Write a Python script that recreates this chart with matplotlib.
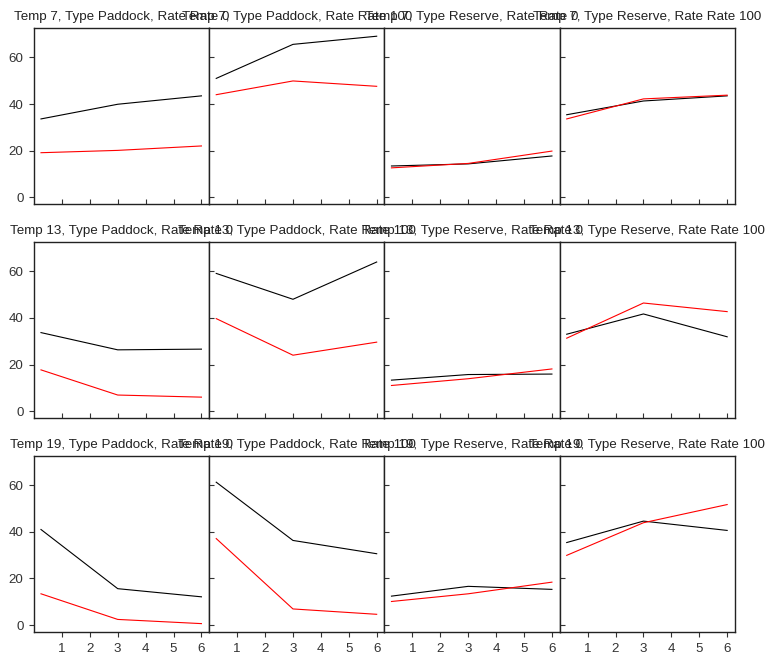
import matplotlib.pyplot as plt

plt.rcParams['font.family'] = ['Liberation Sans', 'DejaVu Sans']

times = [0.25, 3, 6]
temps = [7, 13, 19]
panels = [("Paddock", 0), ("Paddock", 100), ("Reserve", 0), ("Reserve", 100)]

# black series, one row per temp, one list per panel
black = [
    [[33.6, 39.9, 43.5], [51.0, 65.6, 69.1], [13.4, 14.3, 17.7], [35.4, 41.3, 43.5]],
    [[33.7, 26.3, 26.6], [59.1, 48.0, 64.0], [13.3, 15.7, 15.9], [33.0, 41.7, 31.9]],
    [[41.0, 15.6, 12.1], [61.3, 36.3, 30.6], [12.4, 16.6, 15.3], [35.4, 44.6, 40.6]],
]
# red series
red = [
    [[19.1, 20.1, 22.0], [44.0, 49.9, 47.6], [12.6, 14.5, 19.8], [33.6, 42.2, 43.8]],
    [[17.7, 6.9, 6.0], [39.7, 24.0, 29.6], [11.0, 13.9, 18.1], [31.3, 46.4, 42.7]],
    [[13.4, 2.4, 0.6], [37.1, 6.9, 4.6], [10.1, 13.4, 18.4], [29.9, 43.9, 51.7]],
]

fig, axes = plt.subplots(3, 4, figsize=(7.66, 6.58), dpi=100, sharex=True, sharey=True)
fig.subplots_adjust(left=0.0444, right=0.9595, top=0.957, bottom=0.0395,
                    wspace=0, hspace=0.216)

for i, temp in enumerate(temps):
    for j, (typ, rate) in enumerate(panels):
        ax = axes[i, j]
        ax.plot(times, black[i][j], color='black', lw=0.8)
        ax.plot(times, red[i][j], color='red', lw=0.8)
        ax.set_title(f"Temp {temp}, Type {typ}, Rate Rate {rate}",
                     fontsize=9.6, pad=6, color='#222222')
        ax.set_xlim(0, 6.28)
        ax.set_ylim(-3, 72.5)
        ax.set_xticks([1, 2, 3, 4, 5, 6])
        ax.set_yticks([0, 20, 40, 60])
        for s in ax.spines.values():
            s.set_color('#222222')
            s.set_linewidth(1)
        ax.tick_params(labelsize=9.6, length=3.6, width=0.8, colors='#333333', pad=4)
        ax.tick_params(axis='y', direction='out' if j == 0 else 'in',
                       labelleft=(j == 0))
        ax.tick_params(axis='x', direction='out' if i == 2 else 'in',
                       labelbottom=(i == 2))

fig.savefig("out.png", dpi=100)
